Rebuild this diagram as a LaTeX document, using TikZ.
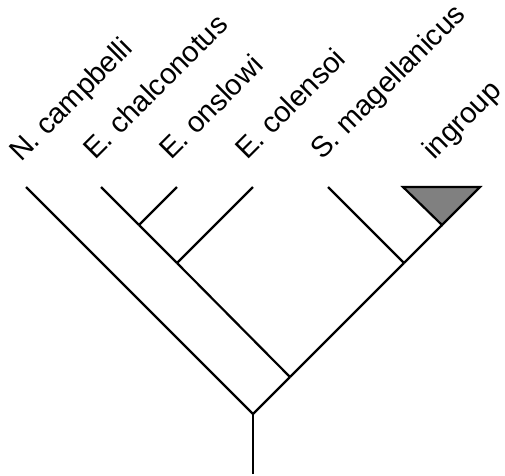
\documentclass[tikz,border=0pt]{standalone}
\usepackage{fontspec}
\setmainfont{Liberation Sans}
\begin{document}
\begin{tikzpicture}[x=1pt,y=-1pt,
  branch/.style={line width=2.2pt,line cap=butt},
  taxon/.style={rotate=45,anchor=base west,inner sep=0pt,font=\fontsize{29}{34}\selectfont}]
\useasboundingbox (0,0) rectangle (505,475);
% leaves
\coordinate (ncamp) at (26,187);
\coordinate (echal) at (101,187);
\coordinate (eons) at (177,187);
\coordinate (ecol) at (253,187);
\coordinate (smag) at (328,187);
\coordinate (trl) at (403,187);
\coordinate (trr) at (480,187);
% internal nodes
\coordinate (ing) at (442,225);
\coordinate (na) at (139,225);
\coordinate (nb) at (177,263);
\coordinate (nd) at (404,263);
\coordinate (nc) at (290,377);
\coordinate (root) at (253,414);
\coordinate (base) at (253,474);
% triangle
\draw[line width=2.2pt,fill=black!50,line join=miter] (trl) -- (trr) -- (ing) -- cycle;
% branches
\draw[branch] (base) -- (root);
\draw[branch] (root) -- (ncamp);
\draw[branch] (root) -- (nc);
\draw[branch] (nc) -- (nb);
\draw[branch] (nb) -- (na);
\draw[branch] (na) -- (echal);
\draw[branch] (na) -- (eons);
\draw[branch] (nb) -- (ecol);
\draw[branch] (nc) -- (nd);
\draw[branch] (nd) -- (smag);
\draw[branch] (nd) -- (ing);
% labels
\node[taxon] (lncamp) at (21,163) {N. campbelli};
\node[taxon] (lechal) at (95,161) {E. chalconotus};
\node[taxon] (leons) at (171,161) {E. onslowi};
\node[taxon] (lecol) at (247,161) {E. colensoi};
\node[taxon] (lsmag) at (322,161) {S. magellanicus};
\node[taxon] (ling) at (434,161) {ingroup};
\end{tikzpicture}
\end{document}
